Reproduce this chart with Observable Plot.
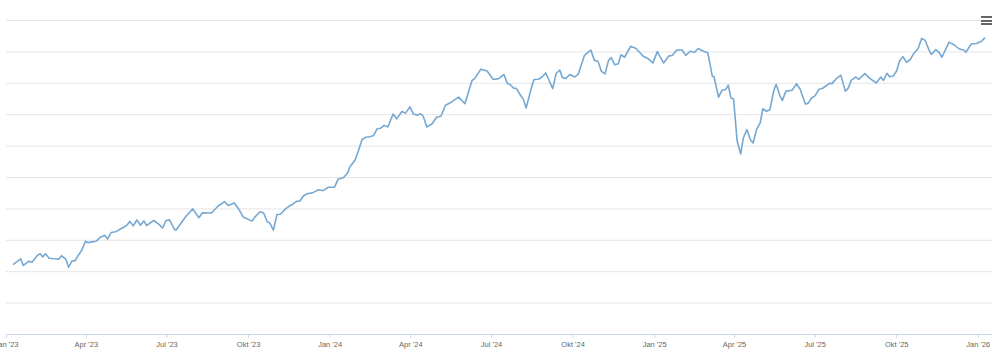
<!DOCTYPE html>
<html>
<head>
<meta charset="utf-8">
<script src="https://cdn.jsdelivr.net/npm/d3@7"></script>
<script src="https://cdn.jsdelivr.net/npm/@observablehq/plot@0.6"></script>
<style>
  html, body { margin: 0; padding: 0; background: #ffffff; }
  #wrap { position: relative; width: 1000px; height: 351px; overflow: hidden; }
  #menu { position: absolute; left: 981px; top: 16px; width: 11px; height: 9px; }
  #menu div { position: absolute; left: 0; width: 11px; height: 2px; background: #666666; }
</style>
</head>
<body>
<div id="wrap">
  <div id="menu"><div style="top:0px"></div><div style="top:3.5px"></div><div style="top:7px"></div></div>
</div>
<script>
const dates = [
"2023-01-09","2023-01-17","2023-01-20","2023-01-26","2023-01-30","2023-02-05","2023-02-08","2023-02-11","2023-02-14","2023-02-18",
"2023-02-24","2023-03-01","2023-03-04","2023-03-09","2023-03-12","2023-03-16","2023-03-19","2023-03-23","2023-03-27","2023-03-31",
"2023-04-03","2023-04-07","2023-04-12","2023-04-17","2023-04-22","2023-04-25","2023-04-29","2023-05-04","2023-05-09","2023-05-14",
"2023-05-17","2023-05-20","2023-05-24","2023-05-28","2023-06-01","2023-06-05","2023-06-08","2023-06-16","2023-06-21","2023-06-26",
"2023-06-30","2023-07-04","2023-07-09","2023-07-11","2023-07-16","2023-07-22","2023-07-30","2023-08-06","2023-08-10","2023-08-15",
"2023-08-20","2023-08-28","2023-09-04","2023-09-08","2023-09-15","2023-09-20","2023-09-25","2023-09-28","2023-10-05","2023-10-08",
"2023-10-14","2023-10-18","2023-10-22","2023-10-25","2023-10-29","2023-11-02","2023-11-06","2023-11-12","2023-11-16","2023-11-20",
"2023-11-24","2023-11-28","2023-12-02","2023-12-06","2023-12-12","2023-12-19","2023-12-24","2023-12-30","2024-01-06","2024-01-10",
"2024-01-16","2024-01-21","2024-01-23","2024-01-29","2024-02-02","2024-02-06","2024-02-10","2024-02-15","2024-02-19","2024-02-23",
"2024-02-27","2024-03-02","2024-03-06","2024-03-12","2024-03-16","2024-03-22","2024-03-26","2024-03-31","2024-04-04","2024-04-08",
"2024-04-12","2024-04-15","2024-04-19","2024-04-25","2024-04-30","2024-05-05","2024-05-10","2024-05-15","2024-05-19","2024-05-25",
"2024-06-01","2024-06-09","2024-06-12","2024-06-19","2024-06-26","2024-07-03","2024-07-09","2024-07-15","2024-07-19","2024-07-22",
"2024-07-26","2024-07-29","2024-08-02","2024-08-06","2024-08-09","2024-08-16","2024-08-18","2024-08-23","2024-08-27","2024-08-31",
"2024-09-04","2024-09-08","2024-09-12","2024-09-16","2024-09-19","2024-09-23","2024-09-27","2024-10-03","2024-10-07","2024-10-10",
"2024-10-14","2024-10-21","2024-10-25","2024-10-29","2024-11-02","2024-11-06","2024-11-10","2024-11-13","2024-11-17","2024-11-21",
"2024-11-24","2024-11-28","2024-12-05","2024-12-11","2024-12-19","2024-12-25","2024-12-30","2025-01-04","2025-01-11","2025-01-17",
"2025-01-21","2025-01-26","2025-02-01","2025-02-05","2025-02-10","2025-02-15","2025-02-19","2025-02-25","2025-03-02","2025-03-07",
"2025-03-09","2025-03-14","2025-03-18","2025-03-22","2025-03-25","2025-03-28","2025-03-31","2025-04-04","2025-04-08","2025-04-11",
"2025-04-15","2025-04-19","2025-04-22","2025-04-26","2025-04-30","2025-05-03","2025-05-07","2025-05-11","2025-05-15","2025-05-18",
"2025-05-22","2025-05-25","2025-05-29","2025-06-05","2025-06-10","2025-06-14","2025-06-20","2025-06-23","2025-06-27","2025-07-01",
"2025-07-05","2025-07-10","2025-07-17","2025-07-20","2025-07-25","2025-07-30","2025-08-04","2025-08-07","2025-08-11","2025-08-16",
"2025-08-19","2025-08-26","2025-09-01","2025-09-08","2025-09-13","2025-09-16","2025-09-20","2025-09-23","2025-09-27","2025-10-01",
"2025-10-04","2025-10-08","2025-10-12","2025-10-16","2025-10-20","2025-10-25","2025-10-29","2025-11-02","2025-11-07","2025-11-09",
"2025-11-14","2025-11-18","2025-11-21","2025-11-29","2025-12-05","2025-12-10","2025-12-16","2025-12-18","2025-12-24","2025-12-30",
"2026-01-05","2026-01-08"
];
const values = [
22.4,24.1,22.0,23.3,23.1,25.2,25.7,24.7,25.7,24.3,
24.1,24.0,25.1,24.0,21.4,23.5,23.4,25.2,26.9,29.7,
29.2,29.5,29.7,31.0,31.6,30.4,32.5,32.7,33.5,34.3,
34.9,36.0,34.6,36.5,34.8,36.2,34.7,36.3,35.3,33.9,
36.3,36.5,33.7,33.2,35.1,37.5,40.0,37.2,38.8,38.7,
38.7,41.0,42.3,41.1,41.9,39.9,37.4,37.0,36.1,37.4,
39.1,38.7,35.9,35.5,33.2,38.2,38.3,40.1,40.9,41.5,
42.4,42.5,44.2,44.8,45.1,46.1,45.8,46.9,46.9,49.5,
49.9,51.6,53.3,55.5,58.6,62.1,62.8,63.0,63.4,65.5,
65.7,66.6,66.1,70.2,68.7,71.0,70.5,72.5,70.2,69.8,
70.3,69.5,66.1,67.1,69.2,69.5,73.0,73.7,74.5,75.6,
73.5,80.9,81.5,84.5,83.9,81.2,81.5,82.8,79.9,79.6,
78.4,78.4,76.5,74.8,72.1,79.6,81.2,81.3,82.0,83.3,
80.9,78.3,83.2,84.2,81.8,81.5,82.8,82.0,83.0,85.7,
89.0,90.6,87.3,87.0,83.8,83.0,87.3,88.2,85.9,86.2,
89.1,88.3,91.8,91.1,88.6,87.8,86.5,90.1,86.5,88.7,
88.9,90.6,90.6,88.9,90.2,89.9,91.1,90.2,89.7,82.3,
82.0,75.6,77.8,78.0,79.4,75.3,75.0,61.6,57.5,62.6,
65.3,62.0,61.0,65.4,67.4,71.9,71.1,71.6,77.3,79.7,
76.2,74.5,77.5,77.8,79.9,78.1,73.4,73.6,75.3,76.1,
78.0,78.5,80.0,79.9,81.5,82.6,77.5,78.3,81.1,82.0,
81.2,83.1,81.5,80.1,82.0,80.9,83.2,82.1,82.3,84.0,
87.0,88.5,86.7,87.5,89.4,91.0,94.3,93.7,90.2,89.2,
90.7,89.8,88.3,93.1,92.2,91.0,90.5,89.9,92.5,92.7,
93.5,94.4
];
const tickDates = ["2023-01-01","2023-04-01","2023-07-01","2023-10-01","2024-01-01","2024-04-01","2024-07-01","2024-10-01","2025-01-01","2025-04-01","2025-07-01","2025-10-01","2026-01-01"];
const tickLabels = ["Jan '23","Apr '23","Jul '23","Okt '23","Jan '24","Apr '24","Jul '24","Okt '24","Jan '25","Apr '25","Jul '25","Okt '25","Jan '26"];
const gridValues = [10,20,30,40,50,60,70,80,90,100];

const data = dates.map((d, i) => ({date: new Date(d), value: values[i]}));
const ticks = tickDates.map(d => new Date(d));
const labelMap = new Map(ticks.map((d, i) => [+d, tickLabels[i]]));

const chart = Plot.plot({
  width: 1000,
  height: 351,
  marginLeft: 6,
  marginRight: 8,
  marginTop: 20,
  marginBottom: 17,
  style: {fontFamily: "'Liberation Sans', Arial, sans-serif", fontSize: "7.5px", background: "transparent", overflow: "visible"},
  x: {type: "utc", domain: [new Date("2023-01-01"), new Date("2026-01-17")]},
  y: {domain: [0, 100], axis: null},
  marks: [
    Plot.gridY(gridValues, {stroke: "#e6e6e6", strokeOpacity: 1, strokeWidth: 1}),
    Plot.ruleY([0], {stroke: "#ccd6eb", strokeWidth: 1}),
    Plot.axisX(ticks, {tickSize: 4, tickPadding: 3, stroke: "#ccd6eb", strokeOpacity: 1, fill: "#666666", fillOpacity: 1, tickFormat: d => labelMap.get(+d), label: null}),
    Plot.lineY(data, {x: "date", y: "value", stroke: "#76a8d2", strokeWidth: 1.6, strokeLinejoin: "round"})
  ]
});
chart.style.position = "absolute";
chart.style.left = "0px";
chart.style.top = "0px";
document.getElementById("wrap").insertBefore(chart, document.getElementById("menu"));
</script>
</body>
</html>
